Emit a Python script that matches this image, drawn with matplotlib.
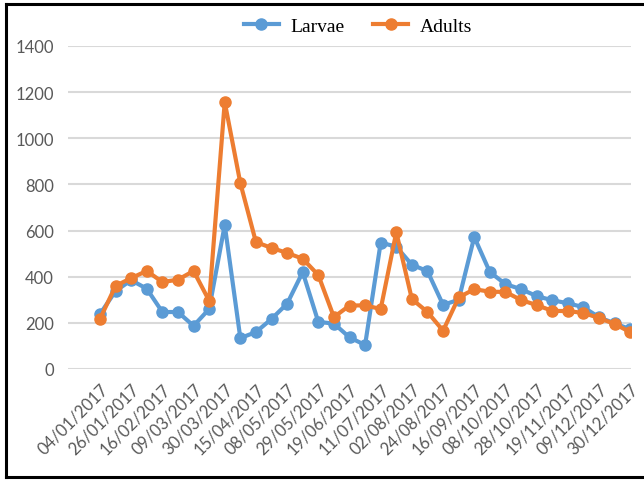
import matplotlib
matplotlib.use("Agg")
import matplotlib.pyplot as plt
from matplotlib.lines import Line2D

dates = ["04/01/2017", "15/01/2017", "26/01/2017", "06/02/2017", "16/02/2017", "27/02/2017",
         "09/03/2017", "20/03/2017", "30/03/2017", "07/04/2017", "15/04/2017", "27/04/2017",
         "08/05/2017", "18/05/2017", "29/05/2017", "08/06/2017", "19/06/2017", "30/06/2017",
         "11/07/2017", "22/07/2017", "02/08/2017", "13/08/2017", "24/08/2017", "04/09/2017",
         "16/09/2017", "27/09/2017", "08/10/2017", "18/10/2017", "28/10/2017", "08/11/2017",
         "19/11/2017", "29/11/2017", "09/12/2017", "20/12/2017", "30/12/2017"]

larvae = [238, 338, 385, 348, 247, 247, 187, 260, 624, 134, 160, 217, 283, 420, 204, 197,
          137, 104, 548, 530, 452, 424, 278, 300, 572, 420, 368, 346, 316, 298, 285, 268,
          224, 198, 172]
adults = [217, 360, 394, 425, 377, 387, 425, 296, 1157, 806, 550, 525, 503, 478, 407, 225,
          275, 276, 260, 593, 303, 247, 166, 310, 346, 335, 334, 299, 277, 252, 251, 243,
          221, 195, 160]

yticks = [0, 200, 400, 600, 800, 1000, 1200, 1400]

W, H = 644, 481
fig = plt.figure(figsize=(W / 100, H / 100), dpi=100)
ax = fig.add_axes([68 / W, 1 - 370 / H, (631 - 68) / W, (370 - 47) / H])

x = list(range(len(dates)))
blue = "#5B9BD5"
orange = "#ED7D31"
ax.plot(x, larvae, color=blue, lw=3.0, marker="o", ms=8, zorder=3, solid_capstyle="round")
ax.plot(x, adults, color=orange, lw=3.0, marker="o", ms=8, zorder=4, solid_capstyle="round")

ax.set_ylim(0, 1400)
ax.set_xlim(-2.05, 34.05)
ax.set_yticks(yticks)
ax.set_yticklabels([str(v) for v in yticks], fontsize=12, color="#595959", family="Lato")
ax.grid(axis="y", color="#D9D9D9", lw=1.5, zorder=0)
ax.set_axisbelow(True)
for s in ax.spines.values():
    s.set_visible(False)
ax.tick_params(axis="both", length=0)
ax.tick_params(axis="y", pad=10)

ax.set_xticks(x[::2])
ax.set_xticklabels(dates[::2], rotation=45, ha="right", rotation_mode="anchor",
                   fontsize=12, color="#595959", family="Lato")
ax.tick_params(axis="x", pad=8)

handles = [Line2D([0], [0], color=blue, lw=3.0, marker="o", ms=8),
           Line2D([0], [0], color=orange, lw=3.0, marker="o", ms=8)]
fig.legend(handles, ["Larvae", "Adults"], loc="center", bbox_to_anchor=(358 / W, 1 - 27 / H),
           ncol=2, frameon=False, prop={"family": "Liberation Serif", "size": 14},
           handlelength=1.8, columnspacing=1.5, handletextpad=0.6)

# outer black frame (left, top, bottom visible)
fig.add_artist(Line2D([6 / W, 6 / W], [1 - 5 / H, 1 - 478 / H], color="black", lw=2.2,
                      transform=fig.transFigure))
fig.add_artist(Line2D([6 / W, 1.0], [1 - 5 / H, 1 - 5 / H], color="black", lw=2.2,
                      transform=fig.transFigure))
fig.add_artist(Line2D([6 / W, 1.0], [1 - 478 / H, 1 - 478 / H], color="black", lw=2.2,
                      transform=fig.transFigure))

fig.savefig("out.png", dpi=100)
